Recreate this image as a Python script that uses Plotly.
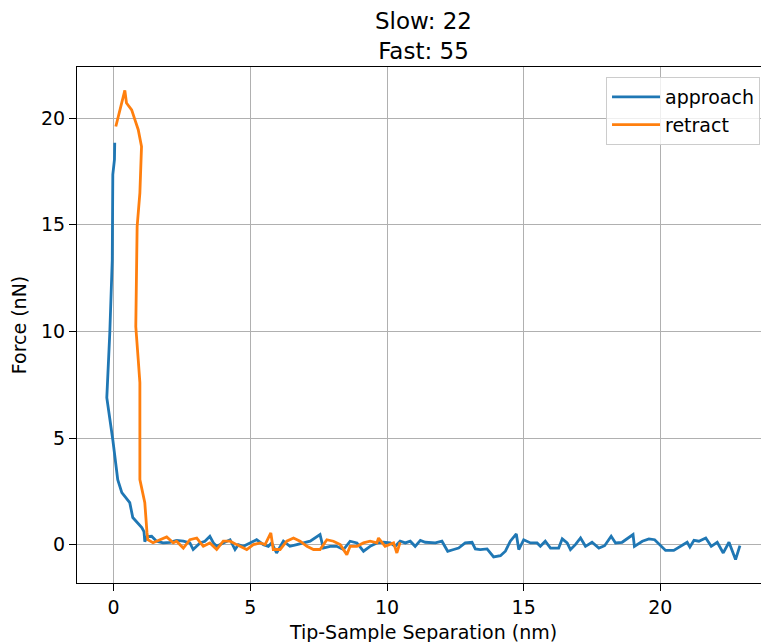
import plotly.graph_objects as go

# Approach curve (blue)
approach_x = [0.04, 0.03, -0.03, -0.03, -0.05, -0.14, -0.21, -0.25, -0.03, 0.15, 0.30, 0.59, 0.70,
              1.03, 1.11, 1.14, 1.22, 1.39, 1.57, 1.81, 2.06, 2.30, 2.55, 2.79, 2.91, 3.16, 3.34,
              3.52, 3.65, 3.77, 4.01, 4.26, 4.44, 4.56, 4.75, 4.99, 5.23, 5.48, 5.66, 5.78, 5.96,
              6.21, 6.45, 6.70, 6.94, 7.19, 7.55, 7.67, 7.92, 8.16, 8.41, 8.65, 8.90, 9.14, 9.38,
              9.63, 9.87, 10.12, 10.30, 10.48, 10.67, 10.85, 11.03, 11.22, 11.40, 11.58, 11.77,
              12.01, 12.22, 12.44, 12.62, 12.86, 13.11, 13.23, 13.41, 13.66, 13.90, 14.15, 14.33,
              14.51, 14.73, 14.82, 15.00, 15.25, 15.49, 15.61, 15.79, 15.98, 16.28, 16.41, 16.59,
              16.71, 16.89, 17.08, 17.26, 17.50, 17.75, 17.96, 18.20, 18.36, 18.60, 19.00, 19.05,
              19.34, 19.58, 19.79, 20.00, 20.19, 20.49, 20.74, 20.98, 21.08, 21.23, 21.41, 21.66,
              21.86, 22.08, 22.30, 22.51, 22.75, 22.91]
approach_y = [18.85, 18.05, 17.35, 14.9, 13.36, 9.94, 8.2, 6.89, 4.92, 3.05, 2.44, 1.97, 1.27,
              0.80, 0.61, 0.14, 0.38, 0.39, 0.16, 0.08, 0.11, 0.20, 0.16, 0.08, -0.23, 0.08, 0.16,
              0.39, 0.08, -0.08, 0.08, 0.23, -0.23, 0.00, -0.08, 0.08, 0.23, 0.00, -0.08, 0.08, -0.39,
              0.16, -0.08, 0.00, 0.08, 0.16, 0.47, -0.16, -0.08, -0.08, -0.23, 0.16, 0.08, -0.31, -0.08,
              0.08, 0.11, 0.08, -0.08, 0.16, 0.08, 0.16, -0.08, 0.20, 0.11, 0.11, 0.08,
              0.16, -0.31, -0.23, -0.16, 0.08, 0.11, -0.20, -0.23, -0.20, -0.58, -0.52, -0.31,
              0.16, 0.50, -0.23, 0.23, 0.08, 0.08, -0.08, 0.16, -0.16, -0.16, 0.27, 0.08,
              -0.23, 0.00, 0.31, -0.08, 0.11, -0.16, -0.05, 0.39, 0.08, 0.11, 0.47, -0.08,
              0.16, 0.27, 0.23, -0.05, -0.27, -0.27, -0.08, 0.11, -0.11, 0.20, 0.16, 0.31,
              -0.08, 0.11, -0.39, 0.11, -0.70, -0.05]

# Retract curve (orange)
retract_x = [0.08, 0.41, 0.47, 0.66, 0.78, 0.90, 1.02, 0.96, 0.86, 0.83, 0.81, 0.90, 0.96, 0.96,
             1.14, 1.22, 1.25, 1.44, 1.69, 1.94, 2.18, 2.30, 2.55, 2.79, 3.04, 3.28, 3.52, 3.77,
             4.01, 4.26, 4.50, 4.87, 5.11, 5.36, 5.54, 5.75, 5.84, 6.09, 6.33, 6.58, 6.82, 7.07,
             7.31, 7.55, 7.80, 8.04, 8.29, 8.53, 8.65, 8.90, 9.14, 9.38, 9.63, 9.69, 9.93, 10.12,
             10.24, 10.36, 10.48]
retract_y = [19.61, 21.30, 20.71, 20.39, 19.92, 19.46, 18.67, 16.5, 14.92, 12.4, 10.23, 8.67, 7.6, 3.05,
             1.97, 0.56, 0.23, 0.09, 0.23, 0.36, 0.08, 0.16, -0.16, 0.23, 0.31, -0.08, 0.08, -0.23,
             0.16, 0.16, 0.00, -0.23, 0.00, 0.08, 0.00, 0.55, -0.23, -0.23, 0.16, 0.31, 0.16, -0.08,
             -0.23, -0.23, 0.23, 0.16, 0.00, -0.47, -0.08, -0.08, 0.08, 0.16, 0.08, 0.31, -0.08, 0.00,
             0.08, -0.39, 0.11]

tick_vals_x = [0, 5, 10, 15, 20]
tick_vals_y = [0, 5, 10, 15, 20]

FONT = "DejaVu Sans"

fig = go.Figure()
fig.add_trace(go.Scatter(x=approach_x, y=approach_y, mode="lines", name="approach",
                         line=dict(color="#1f77b4", width=2.8)))
fig.add_trace(go.Scatter(x=retract_x, y=retract_y, mode="lines", name="retract",
                         line=dict(color="#ff7f0e", width=2.8)))

fig.update_layout(
    width=769, height=642,
    margin=dict(l=69, r=7, t=59, b=67, autoexpand=False),
    plot_bgcolor="white", paper_bgcolor="white",
    font=dict(family=FONT, size=19, color="black"),
    title=dict(text="Slow: 22<br>Fast: 55", x=0.5, xref="paper", xanchor="center",
               y=1 - 21 / 642, yref="container", yanchor="bottom",
               font=dict(family=FONT, size=23, color="black")),
    showlegend=True,
    legend=dict(x=0.9856, y=0.9806, xanchor="right", yanchor="top",
                bgcolor="rgba(255,255,255,0.8)", bordercolor="#cccccc", borderwidth=1,
                font=dict(family=FONT, size=19, color="black"),
                itemwidth=48, traceorder="normal"),
)
fig.update_xaxes(range=[-1.34, 24.01], tickvals=tick_vals_x, showgrid=True, gridcolor="#b0b0b0",
                 gridwidth=1.1, zeroline=False, showline=True, linecolor="black", linewidth=1.1,
                 mirror=True, ticks="outside", ticklen=7, tickcolor="black", tickwidth=1.1,
                 automargin=False,
                 title=dict(text="Tip-Sample Separation (nm)", standoff=8,
                            font=dict(family=FONT, size=19)))
fig.update_yaxes(range=[-1.8, 22.4], tickvals=tick_vals_y, showgrid=True, gridcolor="#b0b0b0",
                 gridwidth=1.1, zeroline=False, showline=True, linecolor="black", linewidth=1.1,
                 mirror=False, ticks="outside", ticklen=7, tickcolor="black", tickwidth=1.1,
                 automargin=False,
                 title=dict(text="Force (nN)", standoff=10, font=dict(family=FONT, size=19)))

fig.write_html("out.html")
